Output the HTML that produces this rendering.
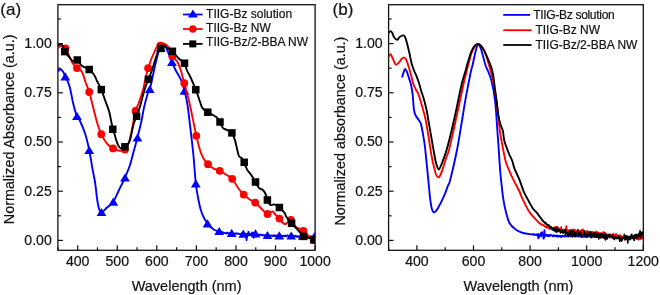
<!DOCTYPE html><html><head><meta charset="utf-8"><style>html,body{margin:0;padding:0;background:#fff;width:660px;height:295px;overflow:hidden}svg{display:block;will-change:transform}</style></head><body><svg width="660" height="295" viewBox="0 0 660 295"><rect width="660" height="295" fill="#fff"/><rect x="57.90" y="4.70" width="257.20" height="245.60" fill="none" stroke="#111" stroke-width="1.3"/><rect x="388.60" y="4.70" width="254.70" height="245.60" fill="none" stroke="#111" stroke-width="1.3"/><g stroke="#111" stroke-width="1.2"><line x1="57.90" y1="240.40" x2="62.90" y2="240.40"/><line x1="57.90" y1="191.20" x2="62.90" y2="191.20"/><line x1="57.90" y1="142.00" x2="62.90" y2="142.00"/><line x1="57.90" y1="92.80" x2="62.90" y2="92.80"/><line x1="57.90" y1="43.60" x2="62.90" y2="43.60"/><line x1="57.90" y1="215.80" x2="60.90" y2="215.80"/><line x1="57.90" y1="166.60" x2="60.90" y2="166.60"/><line x1="57.90" y1="117.40" x2="60.90" y2="117.40"/><line x1="57.90" y1="68.20" x2="60.90" y2="68.20"/><line x1="57.90" y1="19.00" x2="60.90" y2="19.00"/><line x1="388.60" y1="240.40" x2="393.60" y2="240.40"/><line x1="388.60" y1="191.20" x2="393.60" y2="191.20"/><line x1="388.60" y1="142.00" x2="393.60" y2="142.00"/><line x1="388.60" y1="92.80" x2="393.60" y2="92.80"/><line x1="388.60" y1="43.60" x2="393.60" y2="43.60"/><line x1="388.60" y1="215.80" x2="391.60" y2="215.80"/><line x1="388.60" y1="166.60" x2="391.60" y2="166.60"/><line x1="388.60" y1="117.40" x2="391.60" y2="117.40"/><line x1="388.60" y1="68.20" x2="391.60" y2="68.20"/><line x1="388.60" y1="19.00" x2="391.60" y2="19.00"/><line x1="77.69" y1="250.30" x2="77.69" y2="245.30"/><line x1="117.25" y1="250.30" x2="117.25" y2="245.30"/><line x1="156.82" y1="250.30" x2="156.82" y2="245.30"/><line x1="196.40" y1="250.30" x2="196.40" y2="245.30"/><line x1="235.97" y1="250.30" x2="235.97" y2="245.30"/><line x1="275.53" y1="250.30" x2="275.53" y2="245.30"/><line x1="315.10" y1="250.30" x2="315.10" y2="245.30"/><line x1="57.90" y1="250.30" x2="57.90" y2="247.30"/><line x1="97.47" y1="250.30" x2="97.47" y2="247.30"/><line x1="137.04" y1="250.30" x2="137.04" y2="247.30"/><line x1="176.61" y1="250.30" x2="176.61" y2="247.30"/><line x1="216.18" y1="250.30" x2="216.18" y2="247.30"/><line x1="255.75" y1="250.30" x2="255.75" y2="247.30"/><line x1="295.32" y1="250.30" x2="295.32" y2="247.30"/><line x1="416.90" y1="250.30" x2="416.90" y2="245.30"/><line x1="473.50" y1="250.30" x2="473.50" y2="245.30"/><line x1="530.10" y1="250.30" x2="530.10" y2="245.30"/><line x1="586.70" y1="250.30" x2="586.70" y2="245.30"/><line x1="643.30" y1="250.30" x2="643.30" y2="245.30"/><line x1="388.60" y1="250.30" x2="388.60" y2="247.30"/><line x1="445.20" y1="250.30" x2="445.20" y2="247.30"/><line x1="501.80" y1="250.30" x2="501.80" y2="247.30"/><line x1="558.40" y1="250.30" x2="558.40" y2="247.30"/><line x1="615.00" y1="250.30" x2="615.00" y2="247.30"/></g><g font-family="Liberation Sans, sans-serif" fill="#111" stroke="#111" stroke-width="0.2"><text x="51.8" y="244.70" font-size="14.1" text-anchor="end">0.00</text><text x="382.7" y="244.70" font-size="14.1" text-anchor="end">0.00</text><text x="51.8" y="195.50" font-size="14.1" text-anchor="end">0.25</text><text x="382.7" y="195.50" font-size="14.1" text-anchor="end">0.25</text><text x="51.8" y="146.30" font-size="14.1" text-anchor="end">0.50</text><text x="382.7" y="146.30" font-size="14.1" text-anchor="end">0.50</text><text x="51.8" y="97.10" font-size="14.1" text-anchor="end">0.75</text><text x="382.7" y="97.10" font-size="14.1" text-anchor="end">0.75</text><text x="51.8" y="47.90" font-size="14.1" text-anchor="end">1.00</text><text x="382.7" y="47.90" font-size="14.1" text-anchor="end">1.00</text><text x="77.69" y="266.4" font-size="14.1" text-anchor="middle">400</text><text x="117.25" y="266.4" font-size="14.1" text-anchor="middle">500</text><text x="156.82" y="266.4" font-size="14.1" text-anchor="middle">600</text><text x="196.40" y="266.4" font-size="14.1" text-anchor="middle">700</text><text x="235.97" y="266.4" font-size="14.1" text-anchor="middle">800</text><text x="275.53" y="266.4" font-size="14.1" text-anchor="middle">900</text><text x="315.10" y="266.4" font-size="14.1" text-anchor="middle">1000</text><text x="416.90" y="266.4" font-size="14.1" text-anchor="middle">400</text><text x="473.50" y="266.4" font-size="14.1" text-anchor="middle">600</text><text x="530.10" y="266.4" font-size="14.1" text-anchor="middle">800</text><text x="586.70" y="266.4" font-size="14.1" text-anchor="middle">1000</text><text x="643.30" y="266.4" font-size="14.1" text-anchor="middle">1200</text><text x="186.6" y="290.9" font-size="14.5" text-anchor="middle">Wavelength (nm)</text><text x="518.5" y="290.9" font-size="14.5" text-anchor="middle">Wavelength (nm)</text><text transform="translate(13.8,129.3) rotate(-90)" font-size="14.35" text-anchor="middle">Normalized Absorbance (a.u.)</text><text transform="translate(344.9,131.1) rotate(-90)" font-size="14.35" text-anchor="middle">Normalized absorbance (a.u.)</text><text x="0.3" y="15.0" font-size="17">(a)</text><text x="332.6" y="14.6" font-size="17">(b)</text><text x="206.1" y="17.5" font-size="12">TIIG-Bz solution</text><text x="206.1" y="31.6" font-size="12">TIIG-Bz NW</text><text x="206.1" y="45.8" font-size="12">TIIG-Bz/2-BBA NW</text><text x="533.2" y="18.6" font-size="12" textLength="81.5" lengthAdjust="spacing">TIIG-Bz solution</text><text x="535.4" y="34" font-size="12">TIIG-Bz NW</text><text x="535.4" y="48.8" font-size="12">TIIG-Bz/2-BBA NW</text></g><defs><clipPath id="cl"><rect x="57.9" y="4.6" width="257.2" height="245.6"/></clipPath><clipPath id="cr"><rect x="388.6" y="4.6" width="254.7" height="245.6"/></clipPath></defs><g clip-path="url(#cl)" fill="none" stroke-width="1.9" stroke-linejoin="round"><path d="M58.00,71.50 C58.33,71.13 59.20,69.33 60.00,69.30 C60.80,69.27 61.92,70.13 62.80,71.30 C63.68,72.47 64.52,74.68 65.30,76.30 C66.08,77.92 66.72,79.05 67.50,81.00 C68.28,82.95 69.03,84.17 70.00,88.00 C70.97,91.83 72.18,99.42 73.30,104.00 C74.42,108.58 75.58,112.67 76.70,115.50 C77.82,118.33 78.62,118.03 80.00,121.00 C81.38,123.97 83.47,128.47 85.00,133.30 C86.53,138.13 87.95,144.05 89.20,150.00 C90.45,155.95 91.53,163.67 92.50,169.00 C93.47,174.33 94.17,176.55 95.00,182.00 C95.83,187.45 96.78,197.12 97.50,201.70 C98.22,206.28 98.63,207.70 99.30,209.50 C99.97,211.30 100.22,212.83 101.50,212.50 C102.78,212.17 105.03,209.30 107.00,207.50 C108.97,205.70 111.30,204.62 113.30,201.70 C115.30,198.78 117.05,194.03 119.00,190.00 C120.95,185.97 123.17,181.67 125.00,177.50 C126.83,173.33 128.58,169.25 130.00,165.00 C131.42,160.75 132.25,156.58 133.50,152.00 C134.75,147.42 136.13,142.83 137.50,137.50 C138.87,132.17 140.63,124.92 141.70,120.00 C142.77,115.08 142.87,112.50 143.90,108.00 C144.93,103.50 146.88,96.25 147.90,93.00 C148.92,89.75 148.78,93.17 150.00,88.50 C151.22,83.83 153.78,71.08 155.20,65.00 C156.62,58.92 157.57,54.97 158.50,52.00 C159.43,49.03 160.08,48.45 160.80,47.20 C161.52,45.95 162.10,44.78 162.80,44.50 C163.50,44.22 164.13,44.25 165.00,45.50 C165.87,46.75 166.87,49.28 168.00,52.00 C169.13,54.72 170.45,58.63 171.80,61.80 C173.15,64.97 174.58,68.03 176.10,71.00 C177.62,73.97 179.50,76.33 180.90,79.60 C182.30,82.87 183.40,86.37 184.50,90.60 C185.60,94.83 186.58,99.27 187.50,105.00 C188.42,110.73 189.03,116.83 190.00,125.00 C190.97,133.17 192.33,144.28 193.30,154.00 C194.27,163.72 194.97,175.80 195.80,183.30 C196.63,190.80 197.47,194.55 198.30,199.00 C199.13,203.45 199.85,206.83 200.80,210.00 C201.75,213.17 202.88,215.78 204.00,218.00 C205.12,220.22 205.95,221.43 207.50,223.30 C209.05,225.17 211.35,227.83 213.30,229.20 C215.25,230.57 217.25,230.87 219.20,231.50 C221.15,232.13 224.03,232.75 225.00,233.00" stroke="#0000ff"/><path d="M225.00,232.57 L225.60,233.17 L226.20,233.42 L226.80,232.93 L227.40,232.68 L228.00,233.16 L228.60,233.38 L229.20,233.64 L229.80,232.86 L230.40,232.87 L231.00,233.61 L231.60,233.56 L232.20,233.96 L232.80,233.80 L233.40,233.45 L234.00,233.42 L234.60,234.45 L235.20,233.48 L235.80,233.34 L236.40,233.24 L237.00,233.71 L237.60,233.76 L238.20,233.62 L238.80,233.75 L239.40,233.89 L240.00,234.07 L240.60,234.24 L241.20,233.96 L241.80,233.30 L242.40,234.20 L243.00,233.49 L243.60,233.95 L244.20,233.51 L244.80,234.05 L245.40,233.79 L246.00,234.16 L246.60,240.05 L247.20,234.04 L247.80,235.66 L248.40,231.78 L249.00,233.66 L249.60,235.39 L250.20,234.05 L250.80,234.91 L251.40,234.45 L252.00,232.47 L252.60,235.31 L253.20,232.86 L253.80,237.71 L254.40,233.45 L255.00,235.61 L255.60,234.40 L256.20,234.77 L256.80,234.27 L257.40,234.88 L258.00,234.53 L258.60,235.07 L259.20,234.89 L259.80,234.77 L260.40,234.50 L261.00,235.09 L261.60,235.03 L262.20,235.49 L262.80,234.83 L263.40,235.20 L264.00,235.24 L264.60,235.21 L265.20,235.23 L265.80,235.27 L266.40,235.04 L267.00,234.94 L267.60,235.18 L268.20,235.55 L268.80,235.89 L269.40,235.72 L270.00,235.77 L270.60,235.69 L271.20,235.68 L271.80,235.52 L272.40,235.75 L273.00,236.12 L273.60,235.40 L274.20,235.29 L274.80,236.24 L275.40,235.66 L276.00,235.93 L276.60,235.92 L277.20,235.24 L277.80,236.51 L278.40,236.30 L279.00,235.76 L279.60,235.97 L280.20,235.77 L280.80,235.43 L281.40,235.71 L282.00,235.90 L282.60,236.17 L283.20,236.05 L283.80,235.83 L284.40,236.30 L285.00,235.58 L285.60,236.13 L286.20,236.26 L286.80,235.78 L287.40,235.27 L288.00,235.60 L288.60,236.01 L289.20,236.13 L289.80,236.50 L290.40,235.62 L291.00,235.99 L291.60,236.23 L292.20,235.96 L292.80,235.20 L293.40,236.33 L294.00,236.87 L294.60,236.43 L295.20,235.78 L295.80,235.97 L296.40,236.21 L297.00,237.01 L297.60,236.38 L298.20,236.21 L298.80,236.74 L299.40,236.18 L300.00,236.87 L300.60,236.00 L301.20,236.09 L301.80,236.52 L302.40,236.78 L303.00,236.53 L303.60,236.42 L304.20,235.69 L304.80,236.10 L305.40,236.15 L306.00,236.19 L306.60,236.60 L307.20,236.29 L307.80,236.70 L308.40,236.47 L309.00,236.34 L309.60,236.51 L310.20,236.64 L310.80,236.80 L311.40,236.35 L312.00,236.45 L312.60,236.07 L313.20,237.13 L313.80,237.09 L314.40,236.53 L315.00,236.43 L315.60,236.17" stroke="#0000ff" stroke-width="1.9"/><g fill="#0000ff" stroke="none"><path d="M65.30,72.20 L70.20,80.40 L60.40,80.40 Z"/><path d="M77.00,111.90 L81.90,120.10 L72.10,120.10 Z"/><path d="M89.20,145.90 L94.10,154.10 L84.30,154.10 Z"/><path d="M101.50,207.90 L106.40,216.10 L96.60,216.10 Z"/><path d="M113.30,197.60 L118.20,205.80 L108.40,205.80 Z"/><path d="M125.00,173.40 L129.90,181.60 L120.10,181.60 Z"/><path d="M137.50,133.40 L142.40,141.60 L132.60,141.60 Z"/><path d="M149.80,84.90 L154.70,93.10 L144.90,93.10 Z"/><path d="M160.80,43.40 L165.70,51.60 L155.90,51.60 Z"/><path d="M172.00,57.70 L176.90,65.90 L167.10,65.90 Z"/><path d="M184.50,86.50 L189.40,94.70 L179.60,94.70 Z"/><path d="M195.80,179.20 L200.70,187.40 L190.90,187.40 Z"/><path d="M207.50,219.20 L212.40,227.40 L202.60,227.40 Z"/><path d="M219.20,226.90 L224.10,235.10 L214.30,235.10 Z"/><path d="M231.70,228.80 L236.60,237.00 L226.80,237.00 Z"/><path d="M243.30,229.50 L248.20,237.70 L238.40,237.70 Z"/><path d="M255.50,229.30 L260.40,237.50 L250.60,237.50 Z"/><path d="M267.50,230.90 L272.40,239.10 L262.60,239.10 Z"/><path d="M279.30,231.20 L284.20,239.40 L274.40,239.40 Z"/><path d="M291.20,231.40 L296.10,239.60 L286.30,239.60 Z"/><path d="M302.80,231.60 L307.70,239.80 L297.90,239.80 Z"/><path d="M314.50,232.00 L319.40,240.20 L309.60,240.20 Z"/></g><path d="M58.00,48.20 C58.35,47.87 59.35,46.48 60.10,46.20 C60.85,45.92 61.60,46.12 62.50,46.50 C63.40,46.88 64.32,46.75 65.50,48.50 C66.68,50.25 68.35,54.45 69.60,57.00 C70.85,59.55 71.77,61.95 73.00,63.80 C74.23,65.65 75.53,66.82 77.00,68.10 C78.47,69.38 80.38,69.18 81.80,71.50 C83.22,73.82 84.27,78.58 85.50,82.00 C86.73,85.42 87.90,87.67 89.20,92.00 C90.50,96.33 91.92,102.67 93.30,108.00 C94.68,113.33 96.17,119.63 97.50,124.00 C98.83,128.37 99.77,130.98 101.30,134.20 C102.83,137.42 104.73,140.93 106.70,143.30 C108.67,145.67 111.02,147.15 113.10,148.40 C115.18,149.65 117.17,150.62 119.20,150.80 C121.23,150.98 123.67,150.97 125.30,149.50 C126.93,148.03 127.98,144.83 129.00,142.00 C130.02,139.17 130.32,137.67 131.40,132.50 C132.48,127.33 134.33,115.75 135.50,111.00 C136.67,106.25 137.15,107.50 138.40,104.00 C139.65,100.50 141.38,95.97 143.00,90.00 C144.62,84.03 146.03,74.93 148.10,68.20 C150.17,61.47 153.38,53.75 155.40,49.60 C157.42,45.45 158.38,44.10 160.20,43.30 C162.02,42.50 164.67,43.80 166.30,44.80 C167.93,45.80 169.00,47.38 170.00,49.30 C171.00,51.22 171.08,54.22 172.30,56.30 C173.52,58.38 175.85,59.35 177.30,61.80 C178.75,64.25 179.83,67.43 181.00,71.00 C182.17,74.57 183.08,78.65 184.30,83.20 C185.52,87.75 187.22,94.00 188.30,98.30 C189.38,102.60 189.47,102.75 190.80,109.00 C192.13,115.25 194.77,128.97 196.30,135.80 C197.83,142.63 198.83,146.25 200.00,150.00 C201.17,153.75 201.97,155.93 203.30,158.30 C204.63,160.67 206.33,162.53 208.00,164.20 C209.67,165.87 211.35,167.20 213.30,168.30 C215.25,169.40 217.47,169.68 219.70,170.80 C221.93,171.92 224.58,173.67 226.70,175.00 C228.82,176.33 230.47,176.58 232.40,178.80 C234.33,181.02 236.42,185.67 238.30,188.30 C240.18,190.93 241.78,192.73 243.70,194.60 C245.62,196.47 247.88,198.17 249.80,199.50 C251.72,200.83 253.17,200.97 255.20,202.60 C257.23,204.23 259.95,207.40 262.00,209.30 C264.05,211.20 265.78,213.63 267.50,214.00 C269.22,214.37 271.00,211.42 272.30,211.50 C273.60,211.58 274.12,213.32 275.30,214.50 C276.48,215.68 277.82,216.98 279.40,218.60 C280.98,220.22 282.88,223.98 284.80,224.20 C286.72,224.42 289.08,219.48 290.90,219.90 C292.72,220.32 293.62,224.88 295.70,226.70 C297.78,228.52 301.15,229.17 303.40,230.80 C305.65,232.43 307.47,234.93 309.20,236.50 C310.93,238.07 313.03,239.58 313.80,240.20" stroke="#ff0000"/><g fill="#ff0000" stroke="none"><circle cx="65.50" cy="48.50" r="3.9"/><circle cx="77.00" cy="68.10" r="3.9"/><circle cx="89.20" cy="92.00" r="3.9"/><circle cx="101.30" cy="134.20" r="3.9"/><circle cx="113.10" cy="148.40" r="3.9"/><circle cx="125.00" cy="149.50" r="3.9"/><circle cx="135.50" cy="111.00" r="3.9"/><circle cx="148.10" cy="68.20" r="3.9"/><circle cx="160.30" cy="45.60" r="3.9"/><circle cx="172.30" cy="56.30" r="3.9"/><circle cx="184.30" cy="83.20" r="3.9"/><circle cx="196.30" cy="135.80" r="3.9"/><circle cx="208.00" cy="164.20" r="3.9"/><circle cx="219.70" cy="170.80" r="3.9"/><circle cx="232.20" cy="178.80" r="3.9"/><circle cx="243.70" cy="194.60" r="3.9"/><circle cx="255.20" cy="202.60" r="3.9"/><circle cx="267.50" cy="214.00" r="3.9"/><circle cx="279.40" cy="218.60" r="3.9"/><circle cx="290.90" cy="219.90" r="3.9"/><circle cx="303.40" cy="230.80" r="3.9"/><circle cx="313.80" cy="240.20" r="3.9"/></g><path d="M58.00,45.50 C58.45,45.27 59.90,44.00 60.70,44.10 C61.50,44.20 62.12,44.85 62.80,46.10 C63.48,47.35 63.67,49.67 64.80,51.60 C65.93,53.53 68.13,56.05 69.60,57.70 C71.07,59.35 72.32,61.12 73.60,61.50 C74.88,61.88 75.93,59.28 77.30,60.00 C78.67,60.72 79.82,64.22 81.80,65.80 C83.78,67.38 87.13,67.97 89.20,69.50 C91.27,71.03 92.95,73.20 94.20,75.00 C95.45,76.80 95.52,77.87 96.70,80.30 C97.88,82.73 99.92,86.32 101.30,89.60 C102.68,92.88 103.68,96.32 105.00,100.00 C106.32,103.68 107.90,106.82 109.20,111.70 C110.50,116.58 111.95,125.65 112.80,129.30 C113.65,132.95 113.72,131.77 114.30,133.60 C114.88,135.43 115.63,138.33 116.30,140.30 C116.97,142.27 117.53,144.02 118.30,145.40 C119.07,146.78 119.80,148.37 120.90,148.60 C122.00,148.83 123.47,147.98 124.90,146.80 C126.33,145.62 128.07,145.23 129.50,141.50 C130.93,137.77 132.32,128.60 133.50,124.40 C134.68,120.20 135.58,119.03 136.60,116.30 C137.62,113.57 138.28,112.38 139.60,108.00 C140.92,103.62 143.03,94.78 144.50,90.00 C145.97,85.22 147.20,82.47 148.40,79.30 C149.60,76.13 150.13,75.55 151.70,71.00 C153.27,66.45 156.28,55.77 157.80,52.00 C159.32,48.23 159.78,49.35 160.80,48.40 C161.82,47.45 162.77,46.33 163.90,46.30 C165.03,46.27 166.18,47.37 167.60,48.20 C169.02,49.03 170.58,49.63 172.40,51.30 C174.22,52.97 176.48,56.22 178.50,58.20 C180.52,60.18 183.12,61.23 184.50,63.20 C185.88,65.17 185.78,67.62 186.80,70.00 C187.82,72.38 189.10,74.22 190.60,77.50 C192.10,80.78 194.23,85.67 195.80,89.70 C197.37,93.73 199.02,98.87 200.00,101.70 C200.98,104.53 201.02,105.35 201.70,106.70 C202.38,108.05 203.08,108.88 204.10,109.80 C205.12,110.72 206.27,111.30 207.80,112.20 C209.33,113.10 211.77,114.28 213.30,115.20 C214.83,116.12 215.88,116.57 217.00,117.70 C218.12,118.83 219.00,120.28 220.00,122.00 C221.00,123.72 221.88,126.68 223.00,128.00 C224.12,129.32 225.25,129.08 226.70,129.90 C228.15,130.72 230.35,131.28 231.70,132.90 C233.05,134.52 233.88,136.85 234.80,139.60 C235.72,142.35 236.50,146.65 237.20,149.40 C237.90,152.15 238.18,154.58 239.00,156.10 C239.82,157.62 241.23,157.47 242.10,158.50 C242.97,159.53 243.37,160.45 244.20,162.30 C245.03,164.15 245.92,167.47 247.10,169.60 C248.28,171.73 249.92,173.03 251.30,175.10 C252.68,177.17 254.13,179.87 255.40,182.00 C256.67,184.13 257.70,186.60 258.90,187.90 C260.10,189.20 261.48,188.78 262.60,189.80 C263.72,190.82 264.80,192.30 265.60,194.00 C266.40,195.70 266.58,198.17 267.40,200.00 C268.22,201.83 269.38,204.27 270.50,205.00 C271.62,205.73 272.62,203.98 274.10,204.40 C275.58,204.82 277.67,206.08 279.40,207.50 C281.13,208.92 283.32,211.32 284.50,212.90 C285.68,214.48 285.32,215.27 286.50,217.00 C287.68,218.73 289.62,221.05 291.60,223.30 C293.58,225.55 296.40,228.32 298.40,230.50 C300.40,232.68 301.80,235.15 303.60,236.40 C305.40,237.65 307.47,237.43 309.20,238.00 C310.93,238.57 313.20,239.50 314.00,239.80" stroke="#000"/><g fill="#000" stroke="none"><rect x="61.05" y="47.85" width="7.5" height="7.5"/><rect x="73.55" y="56.25" width="7.5" height="7.5"/><rect x="85.45" y="65.75" width="7.5" height="7.5"/><rect x="97.55" y="85.85" width="7.5" height="7.5"/><rect x="109.05" y="125.55" width="7.5" height="7.5"/><rect x="121.15" y="143.05" width="7.5" height="7.5"/><rect x="132.85" y="112.55" width="7.5" height="7.5"/><rect x="144.65" y="75.55" width="7.5" height="7.5"/><rect x="157.05" y="44.65" width="7.5" height="7.5"/><rect x="168.65" y="47.55" width="7.5" height="7.5"/><rect x="180.75" y="59.45" width="7.5" height="7.5"/><rect x="192.05" y="85.95" width="7.5" height="7.5"/><rect x="204.05" y="108.45" width="7.5" height="7.5"/><rect x="216.25" y="118.25" width="7.5" height="7.5"/><rect x="228.15" y="129.15" width="7.5" height="7.5"/><rect x="240.45" y="158.55" width="7.5" height="7.5"/><rect x="251.75" y="178.25" width="7.5" height="7.5"/><rect x="263.65" y="196.25" width="7.5" height="7.5"/><rect x="275.65" y="203.75" width="7.5" height="7.5"/><rect x="287.85" y="219.55" width="7.5" height="7.5"/><rect x="299.85" y="232.65" width="7.5" height="7.5"/><rect x="310.25" y="236.05" width="7.5" height="7.5"/></g></g><g clip-path="url(#cr)" fill="none" stroke-width="1.9" stroke-linejoin="round"><path d="M402.10,77.60 C402.33,76.75 403.00,73.93 403.50,72.50 C404.00,71.07 404.52,69.07 405.10,69.00 C405.68,68.93 406.28,70.37 407.00,72.10 C407.72,73.83 408.70,77.17 409.40,79.40 C410.10,81.63 410.65,82.93 411.20,85.50 C411.75,88.07 412.25,90.82 412.70,94.80 C413.15,98.78 413.40,105.95 413.90,109.40 C414.40,112.85 414.78,113.57 415.70,115.50 C416.62,117.43 418.48,119.43 419.40,121.00 C420.32,122.57 420.48,122.02 421.20,124.90 C421.92,127.78 423.02,134.12 423.70,138.30 C424.38,142.48 424.43,142.05 425.30,150.00 C426.17,157.95 428.10,177.95 428.90,186.00 C429.70,194.05 429.58,194.42 430.10,198.30 C430.62,202.18 431.28,206.97 432.00,209.30 C432.72,211.63 433.40,212.52 434.40,212.30 C435.40,212.08 436.38,210.73 438.00,208.00 C439.62,205.27 442.47,199.57 444.10,195.90 C445.73,192.23 446.78,188.65 447.80,186.00 C448.82,183.35 448.67,186.00 450.20,180.00 C451.73,174.00 455.02,160.00 457.00,150.00 C458.98,140.00 460.73,128.17 462.10,120.00 C463.47,111.83 464.18,106.83 465.20,101.00 C466.22,95.17 467.23,90.00 468.20,85.00 C469.17,80.00 470.27,74.33 471.00,71.00 C471.73,67.67 471.85,68.17 472.60,65.00 C473.35,61.83 474.60,55.45 475.50,52.00 C476.40,48.55 477.08,44.80 478.00,44.30 C478.92,43.80 479.77,45.55 481.00,49.00 C482.23,52.45 484.23,61.33 485.40,65.00 C486.57,68.67 486.98,68.35 488.00,71.00 C489.02,73.65 490.32,75.90 491.50,80.90 C492.68,85.90 494.12,92.65 495.10,101.00 C496.08,109.35 496.87,123.95 497.40,131.00 C497.93,138.05 497.95,138.30 498.30,143.30 C498.65,148.30 499.15,156.00 499.50,161.00 C499.85,166.00 500.05,169.30 500.40,173.30 C500.75,177.30 501.10,180.62 501.60,185.00 C502.10,189.38 502.68,195.13 503.40,199.60 C504.12,204.07 504.87,207.85 505.90,211.80 C506.93,215.75 507.97,220.37 509.60,223.30 C511.23,226.23 513.47,227.78 515.70,229.40 C517.93,231.02 520.35,232.18 523.00,233.00 C525.65,233.82 530.17,234.08 531.60,234.30" stroke="#0000ff"/><path d="M531.60,233.67 L532.00,234.25 L532.40,234.66 L532.80,234.35 L533.20,234.52 L533.60,233.96 L534.00,234.46 L534.40,234.45 L534.80,234.97 L535.20,234.73 L535.60,234.71 L536.00,234.49 L536.40,234.49 L536.80,234.83 L537.20,235.36 L537.60,234.22 L538.00,233.93 L538.40,238.34 L538.80,237.75 L539.20,236.20 L539.60,235.77 L540.00,234.52 L540.40,234.64 L540.80,233.28 L541.20,236.35 L541.60,235.00 L542.00,232.11 L542.40,234.50 L542.80,234.45 L543.20,234.29 L543.60,238.66 L544.00,237.23 L544.40,230.09 L544.80,236.25 L545.20,235.79 L545.60,235.90 L546.00,235.71 L546.40,234.69 L546.80,235.76 L547.20,235.47 L547.60,236.00 L548.00,235.64 L548.40,234.92 L548.80,236.18 L549.20,235.06 L549.60,235.92 L550.00,235.68 L550.40,235.33 L550.80,234.72 L551.20,235.26 L551.60,235.26 L552.00,235.55 L552.40,235.56 L552.80,236.26 L553.20,235.83 L553.60,236.13 L554.00,235.29 L554.40,235.57 L554.80,236.10 L555.20,236.14 L555.60,236.05 L556.00,235.65 L556.40,235.44 L556.80,236.51 L557.20,235.62 L557.60,235.75 L558.00,236.49 L558.40,235.96 L558.80,235.71 L559.20,236.28 L559.60,235.91 L560.00,236.49 L560.40,235.98 L560.80,235.74 L561.20,236.98 L561.60,236.55 L562.00,236.16 L562.40,236.06 L562.80,235.62 L563.20,235.90 L563.60,235.65 L564.00,236.44 L564.40,236.57 L564.80,236.01 L565.20,235.95 L565.60,236.27 L566.00,236.13 L566.40,236.34 L566.80,236.32 L567.20,236.30 L567.60,236.38 L568.00,235.79 L568.40,236.42 L568.80,235.41 L569.20,236.20 L569.60,236.06 L570.00,236.30 L570.40,236.10 L570.80,236.26 L571.20,235.51 L571.60,235.98 L572.00,235.88 L572.40,236.32 L572.80,236.25 L573.20,236.02 L573.60,236.00 L574.00,235.93 L574.40,236.15 L574.80,236.36 L575.20,236.46 L575.60,236.15 L576.00,235.82 L576.40,235.91 L576.80,236.48 L577.20,235.84 L577.60,236.10 L578.00,235.39 L578.40,236.56 L578.80,236.26 L579.20,236.01 L579.60,236.17 L580.00,236.48 L580.40,236.22 L580.80,236.35 L581.20,236.27 L581.60,235.84 L582.00,235.64 L582.40,236.65 L582.80,236.09 L583.20,236.72 L583.60,236.72 L584.00,236.13 L584.40,236.07 L584.80,236.12 L585.20,236.93 L585.60,236.34 L586.00,236.24 L586.40,236.66 L586.80,236.00 L587.20,236.13 L587.60,236.14 L588.00,236.34 L588.40,235.89 L588.80,236.13 L589.20,236.43 L589.60,236.01 L590.00,236.01 L590.40,236.54 L590.80,236.01 L591.20,236.31 L591.60,236.67 L592.00,236.42 L592.40,237.05 L592.80,236.35 L593.20,235.83 L593.60,236.52 L594.00,236.47 L594.40,236.67 L594.80,235.86 L595.20,236.34 L595.60,236.79 L596.00,236.47 L596.40,236.80 L596.80,236.13 L597.20,236.56 L597.60,236.39 L598.00,236.96 L598.40,236.04 L598.80,236.83 L599.20,236.47 L599.60,236.41 L600.00,236.15" stroke="#0000ff" stroke-width="1.9"/><path d="M388.70,56.70 C389.00,56.28 389.90,54.07 390.50,54.20 C391.10,54.33 391.70,56.28 392.30,57.50 C392.90,58.72 393.48,60.28 394.10,61.50 C394.72,62.72 395.08,64.77 396.00,64.80 C396.92,64.83 398.68,62.67 399.60,61.70 C400.52,60.73 400.78,59.72 401.50,59.00 C402.22,58.28 403.10,57.25 403.90,57.40 C404.70,57.55 405.48,58.27 406.30,59.90 C407.12,61.53 407.98,64.57 408.80,67.20 C409.62,69.83 410.42,72.82 411.20,75.70 C411.98,78.58 412.58,81.95 413.50,84.50 C414.42,87.05 415.92,89.50 416.70,91.00 C417.48,92.50 417.45,91.45 418.20,93.50 C418.95,95.55 419.93,98.80 421.20,103.30 C422.47,107.80 424.07,111.72 425.80,120.50 C427.53,129.28 430.17,148.03 431.60,156.00 C433.03,163.97 433.67,165.22 434.40,168.30 C435.13,171.38 435.35,172.98 436.00,174.50 C436.65,176.02 437.55,177.32 438.30,177.40 C439.05,177.48 439.73,176.52 440.50,175.00 C441.27,173.48 441.85,171.47 442.90,168.30 C443.95,165.13 445.78,159.05 446.80,156.00 C447.82,152.95 447.52,155.92 449.00,150.00 C450.48,144.08 453.32,131.33 455.70,120.50 C458.08,109.67 461.47,93.25 463.30,85.00 C465.13,76.75 465.25,76.50 466.70,71.00 C468.15,65.50 470.12,56.50 472.00,52.00 C473.88,47.50 476.00,44.33 478.00,44.00 C480.00,43.67 482.17,46.50 484.00,50.00 C485.83,53.50 487.50,60.00 489.00,65.00 C490.50,70.00 491.75,74.00 493.00,80.00 C494.25,86.00 495.35,92.50 496.50,101.00 C497.65,109.50 498.98,123.95 499.90,131.00 C500.82,138.05 501.05,138.30 502.00,143.30 C502.95,148.30 504.55,156.82 505.60,161.00 C506.65,165.18 507.03,165.33 508.30,168.40 C509.57,171.47 511.37,175.63 513.20,179.40 C515.03,183.17 517.88,188.03 519.30,191.00 C520.72,193.97 520.28,194.13 521.70,197.20 C523.12,200.27 526.15,206.47 527.80,209.40 C529.45,212.33 529.95,212.78 531.60,214.80 C533.25,216.82 536.68,220.38 537.70,221.50" stroke="#ff0000"/><path d="M537.70,221.52 L538.05,222.08 L538.40,221.78 L538.75,222.58 L539.10,222.48 L539.45,222.73 L539.80,223.73 L540.15,223.40 L540.50,223.59 L540.85,224.16 L541.20,224.60 L541.55,224.39 L541.90,224.93 L542.25,224.48 L542.60,225.02 L542.95,225.24 L543.30,225.03 L543.65,225.18 L544.00,225.35 L544.35,226.37 L544.70,226.67 L545.05,226.82 L545.40,227.13 L545.75,226.32 L546.10,227.20 L546.45,227.49 L546.80,227.93 L547.15,226.89 L547.50,227.28 L547.85,226.15 L548.20,227.34 L548.55,226.10 L548.90,226.76 L549.25,228.86 L549.60,226.22 L549.95,228.80 L550.30,228.49 L550.65,228.01 L551.00,228.78 L551.35,228.93 L551.70,229.50 L552.05,228.38 L552.40,228.11 L552.75,228.16 L553.10,227.85 L553.45,228.87 L553.80,228.18 L554.15,230.21 L554.50,227.15 L554.85,228.04 L555.20,228.26 L555.55,227.04 L555.90,231.66 L556.25,226.72 L556.60,229.22 L556.95,228.96 L557.30,231.60 L557.65,227.27 L558.00,230.97 L558.35,228.83 L558.70,229.56 L559.05,228.97 L559.40,230.58 L559.75,228.47 L560.10,229.77 L560.45,230.33 L560.80,232.14 L561.15,227.08 L561.50,231.83 L561.85,231.17 L562.20,229.48 L562.55,230.46 L562.90,229.56 L563.25,232.13 L563.60,230.44 L563.95,229.96 L564.30,229.97 L564.65,230.04 L565.00,230.10 L565.35,229.29 L565.70,232.84 L566.05,228.11 L566.40,226.11 L566.75,230.32 L567.10,230.32 L567.45,230.98 L567.80,230.32 L568.15,230.42 L568.50,231.03 L568.85,231.82 L569.20,230.16 L569.55,230.28 L569.90,233.09 L570.25,231.43 L570.60,229.64 L570.95,233.65 L571.30,231.82 L571.65,230.22 L572.00,229.55 L572.35,231.35 L572.70,230.03 L573.05,229.79 L573.40,229.54 L573.75,230.52 L574.10,232.49 L574.45,230.67 L574.80,229.48 L575.15,232.06 L575.50,231.37 L575.85,232.34 L576.20,232.80 L576.55,231.19 L576.90,231.25 L577.25,231.40 L577.60,230.13 L577.95,232.32 L578.30,233.20 L578.65,231.80 L579.00,231.34 L579.35,231.34 L579.70,230.75 L580.05,230.76 L580.40,231.27 L580.75,230.78 L581.10,231.29 L581.45,229.96 L581.80,232.31 L582.15,231.98 L582.50,230.57 L582.85,229.23 L583.20,232.01 L583.55,233.38 L583.90,231.20 L584.25,231.54 L584.60,231.47 L584.95,232.97 L585.30,231.12 L585.65,233.43 L586.00,231.92 L586.35,233.43 L586.70,232.39 L587.05,232.10 L587.40,230.64 L587.75,231.62 L588.10,232.17 L588.45,233.31 L588.80,232.86 L589.15,231.78 L589.50,233.16 L589.85,233.90 L590.20,232.58 L590.55,232.28 L590.90,232.38 L591.25,233.88 L591.60,233.60 L591.95,231.88 L592.30,233.50 L592.65,232.52 L593.00,232.24 L593.35,234.68 L593.70,234.22 L594.05,232.42 L594.40,233.43 L594.75,233.98 L595.10,232.66 L595.45,233.33 L595.80,234.32 L596.15,231.43 L596.50,234.01 L596.85,234.55 L597.20,234.32 L597.55,232.15 L597.90,234.19 L598.25,232.82 L598.60,234.59 L598.95,234.68 L599.30,234.26 L599.65,233.13 L600.00,233.39 L600.35,235.17 L600.70,233.12 L601.05,234.84 L601.40,234.90 L601.75,234.00 L602.10,237.26 L602.45,234.52 L602.80,237.06 L603.15,232.11 L603.50,231.88 L603.85,235.80 L604.20,235.44 L604.55,234.35 L604.90,234.70 L605.25,232.53 L605.60,234.11 L605.95,233.67 L606.30,234.69 L606.65,236.07 L607.00,235.12 L607.35,235.55 L607.70,234.31 L608.05,234.68 L608.40,235.38 L608.75,234.96 L609.10,236.86 L609.45,234.34 L609.80,237.71 L610.15,234.31 L610.50,236.80 L610.85,234.65 L611.20,237.61 L611.55,235.84 L611.90,236.20 L612.25,236.67 L612.60,235.06 L612.95,234.62 L613.30,233.48 L613.65,237.43 L614.00,235.18 L614.35,235.35 L614.70,236.07 L615.05,238.54 L615.40,234.13 L615.75,236.55 L616.10,235.82 L616.45,236.98 L616.80,234.23 L617.15,235.96 L617.50,237.50 L617.85,238.41 L618.20,238.50 L618.55,235.61 L618.90,236.75 L619.25,236.60 L619.60,235.12 L619.95,235.10 L620.30,237.78 L620.65,237.21 L621.00,236.80 L621.35,238.47 L621.70,235.86 L622.05,237.74 L622.40,237.17 L622.75,237.14 L623.10,237.84 L623.45,237.51 L623.80,237.67 L624.15,237.72 L624.50,239.77 L624.85,237.12 L625.20,238.72 L625.55,238.24 L625.90,237.10 L626.25,238.48 L626.60,236.50 L626.95,238.93 L627.30,236.57 L627.65,236.96 L628.00,237.94 L628.35,238.56 L628.70,238.65 L629.05,238.64 L629.40,237.33 L629.75,236.43 L630.10,238.25 L630.45,237.95 L630.80,236.45 L631.15,238.78 L631.50,237.87 L631.85,236.50 L632.20,238.20 L632.55,236.09 L632.90,236.65 L633.25,238.21 L633.60,235.87 L633.95,237.81 L634.30,236.16 L634.65,238.68 L635.00,236.95 L635.35,238.06 L635.70,236.05 L636.05,237.46 L636.40,239.03 L636.75,238.46 L637.10,235.73 L637.45,239.06 L637.80,239.04 L638.15,237.54 L638.50,239.68 L638.85,236.67 L639.20,237.81 L639.55,239.21 L639.90,239.41 L640.25,239.34 L640.60,236.45 L640.95,235.59 L641.30,238.16 L641.65,235.94 L642.00,237.46 L642.35,236.05 L642.70,238.82 L643.05,238.48 L643.40,238.17 L643.75,237.52" stroke="#ff0000" stroke-width="1.7"/><path d="M388.70,32.90 C389.00,32.60 389.90,31.10 390.50,31.10 C391.10,31.10 391.70,31.88 392.30,32.90 C392.90,33.92 393.28,36.03 394.10,37.20 C394.92,38.37 396.28,39.93 397.20,39.90 C398.12,39.87 398.58,37.75 399.60,37.00 C400.62,36.25 402.38,35.37 403.30,35.40 C404.22,35.43 404.48,35.88 405.10,37.20 C405.72,38.52 406.28,40.67 407.00,43.30 C407.72,45.93 408.65,49.72 409.40,53.00 C410.15,56.28 410.70,60.00 411.50,63.00 C412.30,66.00 413.35,68.78 414.20,71.00 C415.05,73.22 415.80,74.30 416.60,76.30 C417.40,78.30 418.23,80.55 419.00,83.00 C419.77,85.45 420.42,88.43 421.20,91.00 C421.98,93.57 422.78,95.13 423.70,98.40 C424.62,101.67 425.90,106.83 426.70,110.60 C427.50,114.37 427.18,113.43 428.50,121.00 C429.82,128.57 433.27,148.75 434.60,156.00 C435.93,163.25 435.82,162.25 436.50,164.50 C437.18,166.75 437.95,169.33 438.70,169.50 C439.45,169.67 439.68,168.75 441.00,165.50 C442.32,162.25 444.47,157.42 446.60,150.00 C448.73,142.58 451.32,131.83 453.80,121.00 C456.28,110.17 459.55,93.33 461.50,85.00 C463.45,76.67 464.57,74.33 465.50,71.00 C466.43,67.67 465.98,68.57 467.10,65.00 C468.22,61.43 470.38,53.10 472.20,49.60 C474.02,46.10 476.17,44.07 478.00,44.00 C479.83,43.93 481.73,47.15 483.20,49.20 C484.67,51.25 485.90,54.42 486.80,56.30 C487.70,58.18 487.82,58.55 488.60,60.50 C489.38,62.45 490.72,65.42 491.50,68.00 C492.28,70.58 492.75,72.67 493.30,76.00 C493.85,79.33 494.25,83.83 494.80,88.00 C495.35,92.17 495.98,96.33 496.60,101.00 C497.22,105.67 497.82,112.00 498.50,116.00 C499.18,120.00 499.97,122.50 500.70,125.00 C501.43,127.50 502.28,128.35 502.90,131.00 C503.52,133.65 503.43,137.23 504.40,140.90 C505.37,144.57 507.38,149.65 508.70,153.00 C510.02,156.35 511.35,158.43 512.30,161.00 C513.25,163.57 513.23,165.33 514.40,168.40 C515.57,171.47 517.78,175.63 519.30,179.40 C520.82,183.17 522.28,188.03 523.50,191.00 C524.72,193.97 525.07,194.33 526.60,197.20 C528.13,200.07 531.05,205.68 532.70,208.20 C534.35,210.72 534.65,209.98 536.50,212.30 C538.35,214.62 542.58,220.47 543.80,222.10" stroke="#000"/><path d="M543.80,221.81 L544.15,222.04 L544.50,222.80 L544.85,222.14 L545.20,223.06 L545.55,222.56 L545.90,224.02 L546.25,223.94 L546.60,224.67 L546.95,224.14 L547.30,224.79 L547.65,224.73 L548.00,224.74 L548.35,225.44 L548.70,224.94 L549.05,225.67 L549.40,226.53 L549.75,226.40 L550.10,226.36 L550.45,228.29 L550.80,227.16 L551.15,226.97 L551.50,227.74 L551.85,227.49 L552.20,227.84 L552.55,228.01 L552.90,230.00 L553.25,228.53 L553.60,228.77 L553.95,229.32 L554.30,230.63 L554.65,228.77 L555.00,228.51 L555.35,231.53 L555.70,227.91 L556.05,229.07 L556.40,230.21 L556.75,232.00 L557.10,228.78 L557.45,227.30 L557.80,230.72 L558.15,229.54 L558.50,229.79 L558.85,230.87 L559.20,230.72 L559.55,230.92 L559.90,230.16 L560.25,232.39 L560.60,232.81 L560.95,231.07 L561.30,230.56 L561.65,232.23 L562.00,232.01 L562.35,230.07 L562.70,230.97 L563.05,233.19 L563.40,231.69 L563.75,231.43 L564.10,232.26 L564.45,231.98 L564.80,232.10 L565.15,229.47 L565.50,234.69 L565.85,232.59 L566.20,231.15 L566.55,233.82 L566.90,232.95 L567.25,232.61 L567.60,234.13 L567.95,235.90 L568.30,233.58 L568.65,235.09 L569.00,235.96 L569.35,231.58 L569.70,232.35 L570.05,234.24 L570.40,230.83 L570.75,232.92 L571.10,235.17 L571.45,234.89 L571.80,234.31 L572.15,230.92 L572.50,236.93 L572.85,234.48 L573.20,234.85 L573.55,234.54 L573.90,231.52 L574.25,231.98 L574.60,232.31 L574.95,236.71 L575.30,232.87 L575.65,233.71 L576.00,233.70 L576.35,234.87 L576.70,234.79 L577.05,234.47 L577.40,232.34 L577.75,229.73 L578.10,234.37 L578.45,234.52 L578.80,235.88 L579.15,234.03 L579.50,233.33 L579.85,234.77 L580.20,232.03 L580.55,232.77 L580.90,232.83 L581.25,234.65 L581.60,237.19 L581.95,235.34 L582.30,235.88 L582.65,234.63 L583.00,234.70 L583.35,233.69 L583.70,233.94 L584.05,230.95 L584.40,232.68 L584.75,232.57 L585.10,235.56 L585.45,235.33 L585.80,236.01 L586.15,236.60 L586.50,234.01 L586.85,235.93 L587.20,237.20 L587.55,234.46 L587.90,236.01 L588.25,234.27 L588.60,232.28 L588.95,234.74 L589.30,233.46 L589.65,234.80 L590.00,234.04 L590.35,235.17 L590.70,231.77 L591.05,237.72 L591.40,236.74 L591.75,234.39 L592.10,233.64 L592.45,234.96 L592.80,235.94 L593.15,235.62 L593.50,235.63 L593.85,232.35 L594.20,233.56 L594.55,237.06 L594.90,235.56 L595.25,233.13 L595.60,234.08 L595.95,233.31 L596.30,233.94 L596.65,237.07 L597.00,235.14 L597.35,237.07 L597.70,235.79 L598.05,233.44 L598.40,234.68 L598.75,238.89 L599.10,234.59 L599.45,234.23 L599.80,237.51 L600.15,235.92 L600.50,235.82 L600.85,237.96 L601.20,233.40 L601.55,236.54 L601.90,234.48 L602.25,234.02 L602.60,234.90 L602.95,237.74 L603.30,235.94 L603.65,233.56 L604.00,234.63 L604.35,238.43 L604.70,237.75 L605.05,234.77 L605.40,239.84 L605.75,235.88 L606.10,234.74 L606.45,236.29 L606.80,237.86 L607.15,238.87 L607.50,238.08 L607.85,236.04 L608.20,235.89 L608.55,234.65 L608.90,236.67 L609.25,235.97 L609.60,237.21 L609.95,235.09 L610.30,236.20 L610.65,235.72 L611.00,235.31 L611.35,235.38 L611.70,235.65 L612.05,235.46 L612.40,238.01 L612.75,237.38 L613.10,235.39 L613.45,238.06 L613.80,237.78 L614.15,239.50 L614.50,237.17 L614.85,237.19 L615.20,236.55 L615.55,237.75 L615.90,238.32 L616.25,237.91 L616.60,237.34 L616.95,238.55 L617.30,237.92 L617.65,238.18 L618.00,236.53 L618.35,238.21 L618.70,236.53 L619.05,236.79 L619.40,238.27 L619.75,241.10 L620.10,240.06 L620.45,238.17 L620.80,237.86 L621.15,240.17 L621.50,240.98 L621.85,240.71 L622.20,238.01 L622.55,238.78 L622.90,237.82 L623.25,237.95 L623.60,236.88 L623.95,238.10 L624.30,234.44 L624.65,236.34 L625.00,239.51 L625.35,236.81 L625.70,239.59 L626.05,235.96 L626.40,237.69 L626.75,239.11 L627.10,236.25 L627.45,236.81 L627.80,242.94 L628.15,236.74 L628.50,236.62 L628.85,236.81 L629.20,237.92 L629.55,237.73 L629.90,239.63 L630.25,239.19 L630.60,236.79 L630.95,236.82 L631.30,234.65 L631.65,234.37 L632.00,235.72 L632.35,238.46 L632.70,237.15 L633.05,238.36 L633.40,238.51 L633.75,236.24 L634.10,240.52 L634.45,235.30 L634.80,234.98 L635.15,235.24 L635.50,238.17 L635.85,235.57 L636.20,234.28 L636.55,236.44 L636.90,237.68 L637.25,235.14 L637.60,234.75 L637.95,237.23 L638.30,236.91 L638.65,236.69 L639.00,233.23 L639.35,235.12 L639.70,235.13 L640.05,230.80 L640.40,236.48 L640.75,234.19 L641.10,233.20 L641.45,238.11 L641.80,233.86 L642.15,232.03 L642.50,233.16 L642.85,234.24 L643.20,234.58 L643.55,232.89 L643.90,231.32" stroke="#000" stroke-width="1.7"/></g><g stroke-width="1.8"><line x1="183" y1="14.5" x2="202.6" y2="14.5" stroke="#0000ff"/><g fill="#0000ff"><path d="M192.90,9.40 L197.80,17.60 L188.00,17.60 Z"/></g><line x1="183" y1="29" x2="202.6" y2="29" stroke="#ff0000"/><circle cx="192.8" cy="29" r="3.7" fill="#ff0000"/><line x1="183" y1="43.9" x2="202.6" y2="43.9" stroke="#000"/><rect x="189.3" y="40.4" width="7" height="7" fill="#000"/><line x1="503.3" y1="14.9" x2="530.1" y2="14.9" stroke="#0000ff"/><line x1="503.3" y1="30.2" x2="531.6" y2="30.2" stroke="#ff0000"/><line x1="503.3" y1="45" x2="531.6" y2="45" stroke="#000"/></g></svg></body></html>
